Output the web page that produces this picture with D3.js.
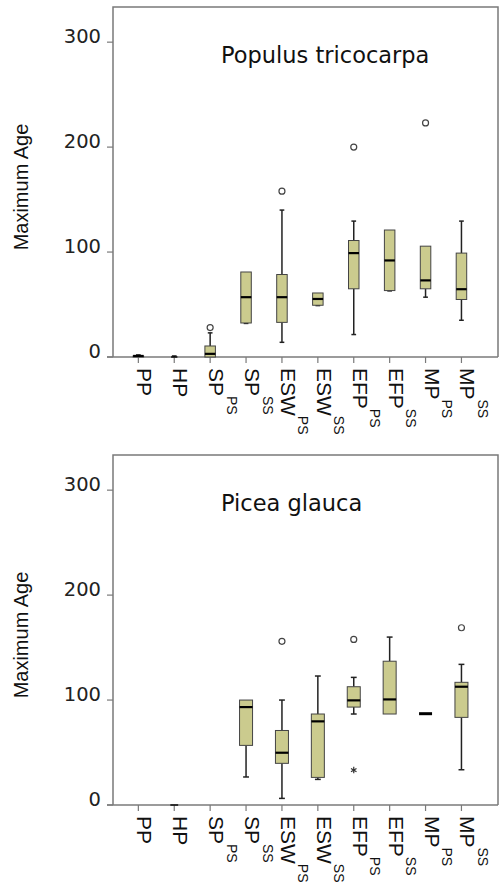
<!DOCTYPE html>
<html>
<head>
<meta charset="utf-8">
<script src="https://cdn.jsdelivr.net/npm/d3@7"></script>
<style>
  body { margin: 0; background: #fff; }
  svg { display: block; }
</style>
</head>
<body>
<div id="viz"></div>
<script>
// categories: base text + superscript
const catBase = ["PP", "HP", "SP", "SP", "ESW", "ESW", "EFP", "EFP", "MP", "MP"];
const catSup  = ["", "", "PS", "SS", "PS", "SS", "PS", "SS", "PS", "SS"];
const yTicks = [0, 100, 200, 300];

// Populus tricocarpa: [whisker low, q1, median, q3, whisker high], null = no data
const populusStats = [
  [0, 0, 1, 1, 2],
  [0, 0, 0, 0, 1],
  [0, 0, 3, 10.5, 23],
  [32, 32.4, 57, 81, 81],
  [14, 33, 57, 78.6, 140],
  [49, 49.3, 55.3, 61, 61],
  [21.4, 65, 99, 111, 129.5],
  [63, 63.3, 92, 121, 121],
  [57, 65, 73, 105.6, 105.6],
  [35, 54.8, 64.6, 99, 129.5]
];
const populusOutliers = [[], [], [28], [], [158], [], [200], [], [223], []];
const populusExtremes = [[], [], [], [], [], [], [], [], [], []];

// Picea glauca
const piceaStats = [
  null,
  [0, 0, 0, 0, 0],
  null,
  [26.7, 56.8, 93.3, 100, 100],
  [6.3, 39.7, 49.8, 71, 100],
  [24.4, 26.3, 79.7, 86.7, 122.9],
  [86.7, 93.3, 99.7, 112.7, 121.6],
  [86.7, 86.7, 100.6, 137, 160],
  [87, 87, 87, 87, 87],
  [33.6, 83.5, 112.7, 116.9, 134]
];
const piceaOutliers = [[], [], [], [], [156], [], [157.8], [], [], [168.9]];
const piceaExtremes = [[], [], [], [], [], [], [33.3], [], [], []];

const W = 499, H = 890;
const svg = d3.select("#viz").append("svg").attr("width", W).attr("height", H);

const frameL = 113, frameR = 498, frameT = 7, axisY = 357;
const x = d3.scaleBand().domain(d3.range(catBase.length)).range([120.4, 479.4]);
const y = d3.scaleLinear().domain([0, 333.5]).range([axisY, frameT]);

const boxFill = "#cbcb8e";
const frameCol = "#7a7a7a";
const star = d3.symbol().type(d3.symbolAsterisk || d3.symbolCross).size(28);

function drawPanel(offY, title, stats, outliers, extremes, boxW) {
  const g = svg.append("g").attr("transform", `translate(0,${offY})`);

  // frame
  g.append("path")
    .attr("d", `M${frameL},${axisY}V${frameT}H${frameR}V${axisY}`)
    .attr("fill", "none").attr("stroke", frameCol).attr("stroke-width", 1.5);
  g.append("line")
    .attr("x1", 107).attr("x2", frameR).attr("y1", axisY).attr("y2", axisY)
    .attr("stroke", frameCol).attr("stroke-width", 1.5);

  // y ticks
  yTicks.forEach(t => {
    g.append("line").attr("x1", 107).attr("x2", frameL)
      .attr("y1", y(t)).attr("y2", y(t)).attr("stroke", frameCol).attr("stroke-width", 1.2);
    g.append("text").attr("x", 101).attr("y", y(t) + 1)
      .attr("text-anchor", "end")
      .attr("font-family", "DejaVu Sans").attr("font-size", "19.5px").attr("fill", "#222")
      .text(t);
  });

  // y title
  g.append("text")
    .attr("transform", `translate(28,${187}) rotate(-90)`)
    .attr("text-anchor", "middle")
    .attr("font-family", "Liberation Sans, Arial").attr("font-size", "20px").attr("fill", "#111")
    .text("Maximum Age");

  // panel title
  g.append("text").attr("x", 221).attr("y", 63)
    .attr("font-family", "DejaVu Sans").attr("font-size", "22.5px").attr("fill", "#111")
    .text(title);

  // x ticks and labels
  catBase.forEach((c, i) => {
    const cx = x(i) + x.bandwidth() / 2;
    g.append("line").attr("x1", cx).attr("x2", cx).attr("y1", axisY).attr("y2", axisY + 6)
      .attr("stroke", frameCol).attr("stroke-width", 1.2);
    const t = g.append("text")
      .attr("transform", `translate(${cx - 1},368) rotate(90)`)
      .attr("font-family", "Liberation Sans, Arial").attr("font-size", "21px").attr("fill", "#111");
    t.append("tspan").text(c);
    if (catSup[i]) {
      t.append("tspan").attr("dy", -17.5).attr("font-size", "14px").text(catSup[i]);
    }
  });

  // boxes
  stats.forEach((s, i) => {
    if (!s) return;
    const cx = x(i) + x.bandwidth() / 2;
    const [lo, q1, med, q3, hi] = s;
    const capW = boxW * 0.45;
    const wk = g.append("g").attr("stroke", "#222").attr("stroke-width", 1.5);
    if (hi > q3) {
      wk.append("line").attr("x1", cx).attr("x2", cx).attr("y1", y(q3)).attr("y2", y(hi));
      wk.append("line").attr("x1", cx - capW / 2).attr("x2", cx + capW / 2).attr("y1", y(hi)).attr("y2", y(hi));
    }
    if (lo < q1) {
      wk.append("line").attr("x1", cx).attr("x2", cx).attr("y1", y(q1)).attr("y2", y(lo));
      wk.append("line").attr("x1", cx - capW / 2).attr("x2", cx + capW / 2).attr("y1", y(lo)).attr("y2", y(lo));
    }
    if (q3 > q1) {
      g.append("rect").attr("x", cx - boxW / 2).attr("width", boxW)
        .attr("y", y(q3)).attr("height", y(q1) - y(q3))
        .attr("fill", boxFill).attr("stroke", "#444").attr("stroke-width", 1);
    }
    const mw = q3 > q1 ? 2.2 : (med > 0 ? 3 : 1.4);
    const mLen = med > 0 || q3 > q1 ? boxW : boxW * 0.6;
    g.append("line").attr("x1", cx - mLen / 2).attr("x2", cx + mLen / 2)
      .attr("y1", y(med)).attr("y2", y(med))
      .attr("stroke", "#000").attr("stroke-width", mw);
  });

  // outliers
  outliers.forEach((arr, i) => {
    const cx = x(i) + x.bandwidth() / 2;
    arr.forEach(v => {
      g.append("circle").attr("cx", cx).attr("cy", y(v)).attr("r", 3)
        .attr("fill", "#fff").attr("stroke", "#444").attr("stroke-width", 1.2);
    });
  });
  // extremes
  extremes.forEach((arr, i) => {
    const cx = x(i) + x.bandwidth() / 2;
    arr.forEach(v => {
      g.append("path").attr("d", star).attr("transform", `translate(${cx},${y(v)})`)
        .attr("fill", "none").attr("stroke", "#333").attr("stroke-width", 1.2);
    });
  });
}

drawPanel(0, "Populus tricocarpa", populusStats, populusOutliers, populusExtremes, 10.5);
drawPanel(448, "Picea glauca", piceaStats, piceaOutliers, piceaExtremes, 13);
</script>
</body>
</html>
